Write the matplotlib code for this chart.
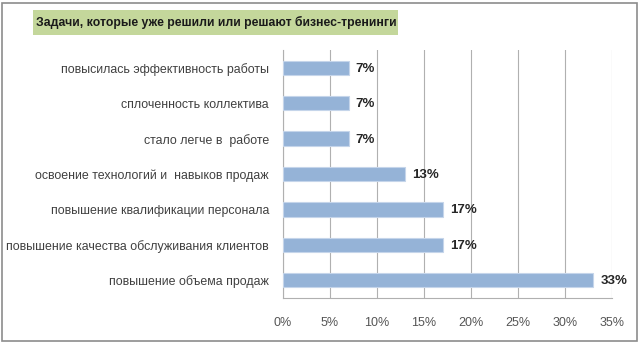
import matplotlib.pyplot as plt
from matplotlib.patches import Rectangle

# Survey results, bottom to top as drawn
categories = [
    "повышение объема продаж",
    "повышение качества обслуживания клиентов",
    "повышение квалификации персонала",
    "освоение технологий и  навыков продаж",
    "стало легче в  работе",
    "сплоченность коллектива",
    "повысилась эффективность работы",
]
values = [33, 17, 17, 13, 7, 7, 7]
xticks = [0, 5, 10, 15, 20, 25, 30, 35]
title = "Задачи, которые уже решили или решают бизнес-тренинги"

bar_color = "#95b3d7"
grid_color = "#b0b0b0"

plt.rcParams['font.family'] = ['Liberation Sans', 'DejaVu Sans']

W, H = 641, 344
fig = plt.figure(figsize=(W / 100, H / 100), dpi=100)
ax = fig.add_axes([283 / W, 1 - 298 / H, (612 - 283) / W, (298 - 50) / H])

# outer frame of the chart
fig.patches.append(Rectangle((1.5 / W, 3 / H), 635 / W, 338 / H,
                             transform=fig.transFigure, fill=False,
                             edgecolor="#8c8c8c", linewidth=1.2))
# green strip behind the title
fig.patches.append(Rectangle((33 / W, 1 - 35 / H), 365 / W, 25 / H,
                             transform=fig.transFigure, facecolor="#c4d79b",
                             edgecolor="none"))

y = range(len(categories))
ax.barh(y, values, height=0.4, color=bar_color, edgecolor="#c5d5ea", linewidth=0.8, zorder=3)
for yi, v in zip(y, values):
    ax.text(v + 0.75, yi - 0.03, f"{v}%", va="center", ha="left", fontsize=9.5,
            fontweight="bold", color="#262626", zorder=4)

ax.set_xlim(0, 35)
ax.set_ylim(-0.5, len(categories) - 0.5)
ax.set_xticks(xticks)
ax.set_xticklabels([f"{t}%" for t in xticks], fontsize=9, color="#555555")
ax.set_yticks(list(y))
ax.set_yticklabels(categories, fontsize=8.9, color="#404040")
ax.tick_params(axis="both", length=0)
ax.tick_params(axis="x", pad=14)
ax.tick_params(axis="y", pad=10)
ax.grid(axis="x", color=grid_color, linewidth=0.8, zorder=0)
for side in ["top", "right"]:
    ax.spines[side].set_visible(False)
for side in ["left", "bottom"]:
    ax.spines[side].set_color(grid_color)
    ax.spines[side].set_linewidth(0.8)

fig.text(36 / W, 1 - 22.5 / H, title, fontsize=8.8, fontweight="bold",
         color="#1a1a1a", va="center", ha="left")

fig.savefig("out.png", dpi=100)
